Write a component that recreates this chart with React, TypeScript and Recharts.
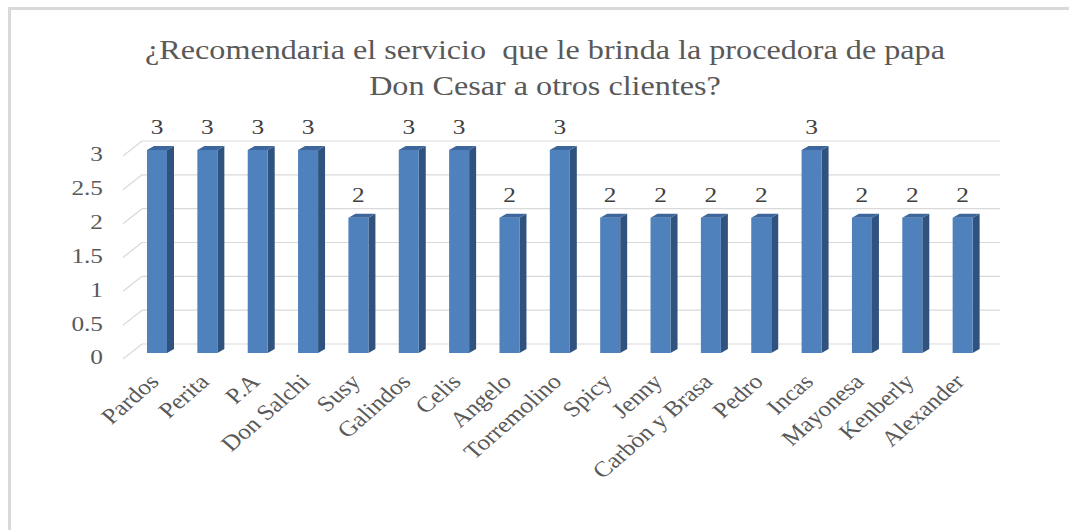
import React from 'react';
import { BarChart, Bar, XAxis, YAxis, CartesianGrid, LabelList } from 'recharts';

const categories = [
  'Pardos', 'Perita', 'P.A', 'Don Salchi', 'Susy', 'Galindos', 'Celis', 'Angelo',
  'Torremolino', 'Spicy', 'Jenny', 'Carbòn y Brasa', 'Pedro', 'Incas', 'Mayonesa',
  'Kenberly', 'Alexander',
];
const values = [3, 3, 3, 3, 2, 3, 3, 2, 3, 2, 2, 2, 2, 3, 2, 2, 2];
const yTicks = [0, 0.5, 1, 1.5, 2, 2.5, 3];
const titleLines = [
  '¿Recomendaria el servicio  que le brinda la procedora de papa',
  'Don Cesar a otros clientes?',
];

const data = categories.map((name, i) => ({ name, value: values[i] }));

const FONT = '"Liberation Serif", "Times New Roman", serif';
const STRETCH = 1.15;
const DEPTH_X = 7;
const DEPTH_Y = 4;

const Bar3D = (props: any) => {
  const { x, y, width, height } = props;
  if (!height) return null;
  const r = x + width;
  const b = y + height;
  return (
    <g>
      <polygon
        points={`${r},${y} ${r + DEPTH_X},${y - DEPTH_Y} ${r + DEPTH_X},${b - DEPTH_Y} ${r},${b}`}
        fill="#30527f"
      />
      <polygon
        points={`${x},${y} ${x + DEPTH_X},${y - DEPTH_Y} ${r + DEPTH_X},${y - DEPTH_Y} ${r},${y}`}
        fill="#3c669c"
      />
      <rect x={x} y={y} width={width} height={height} fill="#4f81bd" />
    </g>
  );
};

const gridLine = (props: any) => {
  const { x1, y1, x2 } = props;
  return (
    <g key={`grid-${y1}`}>
      <line x1={x1 + 10} y1={y1 - 9} x2={x2 + 12} y2={y1 - 9} stroke="#d9d9d9" strokeWidth={1.2} />
      <line x1={x1 - 9} y1={y1 + 6} x2={x1 + 10} y2={y1 - 9} stroke="#d9d9d9" strokeWidth={1.2} />
    </g>
  );
};

const YTick = (props: any) => {
  const { x, y, payload } = props;
  return (
    <text
      transform={`translate(${x},${y + 4}) scale(${STRETCH},1)`}
      textAnchor="end"
      dominantBaseline="central"
      fontFamily={FONT}
      fontSize={22}
      fill="#595959"
    >
      {payload.value}
    </text>
  );
};

const XTick = (props: any) => {
  const { x, y, payload } = props;
  return (
    <text
      transform={`translate(${x + 3},${y + 22}) scale(${STRETCH},1) rotate(-45)`}
      textAnchor="end"
      fontFamily={FONT}
      fontSize={22}
      fill="#595959"
    >
      {payload.value}
    </text>
  );
};

const ValueLabel = (props: any) => {
  const { x, y, width, value } = props;
  return (
    <text
      transform={`translate(${x + width / 2},${y - 23}) scale(${STRETCH},1)`}
      textAnchor="middle"
      dominantBaseline="central"
      fontFamily={FONT}
      fontSize={22}
      fill="#404040"
    >
      {value}
    </text>
  );
};

export default function App() {
  return (
    <div
      style={{
        position: 'absolute',
        left: 0,
        top: 0,
        width: 1069,
        height: 530,
        overflow: 'hidden',
        background: '#fff',
      }}
    >
      <div
        style={{
          position: 'absolute',
          left: 8,
          top: 7,
          width: 1100,
          height: 600,
          border: '3px solid #d9d9d9',
        }}
      />
      <div style={{ position: 'absolute', left: 0, top: 0 }}>
        <BarChart
          width={1069}
          height={530}
          data={data}
          margin={{ top: 150, right: 81, bottom: 147, left: 72 }}
          barCategoryGap={0}
        >
          <CartesianGrid vertical={false} horizontal={gridLine} />
          <XAxis
            dataKey="name"
            height={30}
            axisLine={false}
            tickLine={false}
            interval={0}
            tick={<XTick />}
          />
          <YAxis
            width={60}
            domain={[0, 3]}
            ticks={yTicks}
            axisLine={false}
            tickLine={false}
            tickMargin={23}
            tick={<YTick />}
          />
          <Bar dataKey="value" barSize={20} shape={<Bar3D />} isAnimationActive={false}>
            <LabelList dataKey="value" content={<ValueLabel />} />
          </Bar>
        </BarChart>
      </div>
      <svg
        width={1069}
        height={530}
        style={{ position: 'absolute', left: 0, top: 0, pointerEvents: 'none' }}
      >
        {titleLines.map((line, i) => (
          <text
            key={line}
            transform={`translate(545,${59 + i * 36}) scale(1.17,1)`}
            textAnchor="middle"
            fontFamily={FONT}
            fontSize={27.5}
            fill="#595959"
            style={{ whiteSpace: 'pre' }}
          >
            {line}
          </text>
        ))}
      </svg>
    </div>
  );
}
